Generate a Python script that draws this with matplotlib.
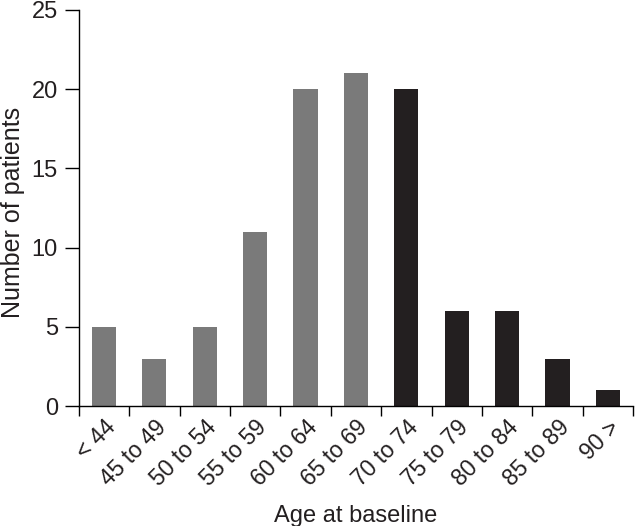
import matplotlib.pyplot as plt
import numpy as np
from matplotlib.transforms import ScaledTranslation

plt.rcParams["font.family"] = ["Liberation Sans", "DejaVu Sans"]

age_groups = ["< 44", "45 to 49", "50 to 54", "55 to 59", "60 to 64", "65 to 69",
              "70 to 74", "75 to 79", "80 to 84", "85 to 89", "90 >"]
patients = [5, 3, 5, 11, 20, 21, 20, 6, 6, 3, 1]
is_older = [False] * 6 + [True] * 5

GREY = "#7a7a7a"
DARK = "#231f20"

fig = plt.figure(figsize=(6.35, 5.26), dpi=100)
ax = fig.add_axes([0.124, 0.228, 0.873, 0.753])

x = np.arange(len(age_groups))
colors = [DARK if old else GREY for old in is_older]
ax.bar(x, patients, width=0.48, color=colors)

ax.set_xlim(-0.5, len(age_groups) - 0.5)
ax.set_ylim(0, 25)
ax.set_yticks(range(0, 26, 5))

# ticks sit between the categories, labels under the bars
ax.set_xticks(np.arange(-0.5, len(age_groups), 1.0))
ax.set_xticklabels([])
ax.set_xticks(x, minor=True)
ax.set_xticklabels(age_groups, minor=True, rotation=45, ha="right",
                   rotation_mode="anchor", fontsize=16.5, color=DARK)
shift = ScaledTranslation(-2 / 100, 0, fig.dpi_scale_trans)
for lbl in ax.get_xticklabels(minor=True):
    lbl.set_transform(lbl.get_transform() + shift)
ax.tick_params(axis="x", which="minor", length=0, pad=7)
ax.tick_params(axis="x", which="major", length=7, width=1, direction="out")
ax.tick_params(axis="y", length=10, width=1, direction="out", labelsize=17,
               pad=5, labelcolor=DARK)

for side in ("top", "right"):
    ax.spines[side].set_visible(False)
for side in ("left", "bottom"):
    ax.spines[side].set_linewidth(1)

ax.set_ylabel("Number of patients", fontsize=18, color=DARK)
ax.yaxis.set_label_coords(-0.097, 0.49)
ax.set_xlabel("Age at baseline", fontsize=17, color=DARK, va="top")
ax.xaxis.set_label_coords(0.5, -0.25)

fig.savefig("out.png", dpi=100)
